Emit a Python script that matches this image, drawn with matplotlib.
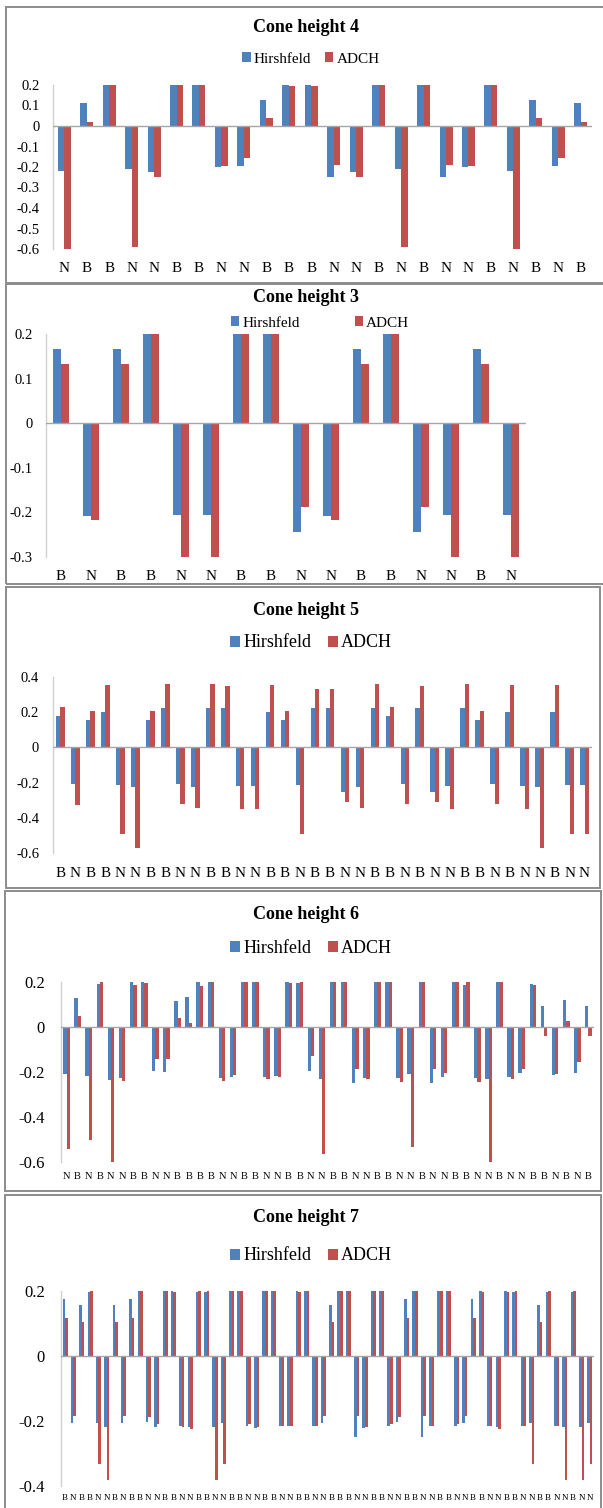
import numpy as np
import matplotlib
matplotlib.use("Agg")
import matplotlib.pyplot as plt
from matplotlib.patches import Patch, Rectangle

# ---- data -------------------------------------------------------------
cats4 = list("NBBNNBBNNBBBNNBNBNNBNBNB")
hirsh4 = [-0.22, 0.11, 0.20, -0.21, -0.225, 0.20, 0.20, -0.20, -0.197, 0.125, 0.20, 0.20,
          -0.249, -0.226, 0.20, -0.21, 0.20, -0.249, -0.20, 0.20, -0.22, 0.125, -0.197, 0.11]
adch4 = [-0.60, 0.02, 0.20, -0.59, -0.249, 0.20, 0.20, -0.193, -0.158, 0.037, 0.193, 0.193,
         -0.19, -0.249, 0.20, -0.59, 0.20, -0.19, -0.193, 0.20, -0.60, 0.037, -0.158, 0.02]

cats3 = list("BNBBNNBBNNBBNNBN")
hirsh3 = [0.166, -0.209, 0.166, 0.20, -0.206, -0.206, 0.20, 0.20,
          -0.245, -0.209, 0.166, 0.20, -0.245, -0.206, 0.166, -0.206]
adch3 = [0.132, -0.218, 0.132, 0.20, -0.30, -0.30, 0.20, 0.20,
         -0.187, -0.218, 0.132, 0.20, -0.187, -0.30, 0.132, -0.30]

cats5 = list("BNBBNNBBNNBBNNBBNBBNNBBNBNNBBNBNNBNN")
hirsh5 = [0.181, -0.206, 0.156, 0.202, -0.211, -0.225, 0.156, 0.225, -0.206, -0.225, 0.225, 0.225,
          -0.219, -0.219, 0.202, 0.156, -0.211, 0.225, 0.225, -0.253, -0.225, 0.225, 0.181, -0.206,
          0.225, -0.253, -0.219, 0.225, 0.156, -0.206, 0.202, -0.219, -0.225, 0.202, -0.211, -0.211]
adch5 = [0.229, -0.326, 0.206, 0.356, -0.491, -0.57, 0.206, 0.36, -0.324, -0.345, 0.36, 0.349,
         -0.352, -0.352, 0.356, 0.206, -0.491, 0.333, 0.333, -0.31, -0.345, 0.36, 0.229, -0.324,
         0.349, -0.31, -0.352, 0.36, 0.206, -0.324, 0.356, -0.352, -0.57, 0.356, -0.491, -0.491]

cats6 = list("NBNBNNBBNNBBBBNNBBNNBBNNBBNNBBNNBNNBBNNBNNBBNBNB")
hirsh6 = [-0.207, 0.127, -0.218, 0.193, -0.237, -0.225, 0.2, 0.2, -0.196, -0.199, 0.116, 0.135,
          0.2, 0.2, -0.225, -0.22, 0.2, 0.2, -0.22, -0.218, 0.2, 0.196, -0.196, -0.233,
          0.2, 0.2, -0.25, -0.225, 0.2, 0.2, -0.228, -0.21, 0.2, -0.25, -0.22, 0.2,
          0.188, -0.228, -0.233, 0.2, -0.22, -0.206, 0.193, 0.092, -0.215, 0.119, -0.203, 0.092]
adch6 = [-0.54, 0.049, -0.5, 0.2, -0.6, -0.241, 0.187, 0.197, -0.144, -0.144, 0.041, 0.019,
         0.182, 0.2, -0.241, -0.212, 0.2, 0.2, -0.231, -0.22, 0.196, 0.2, -0.129, -0.566,
         0.2, 0.2, -0.188, -0.23, 0.2, 0.2, -0.243, -0.533, 0.2, -0.188, -0.203, 0.2,
         0.2, -0.244, -0.6, 0.2, -0.231, -0.187, 0.187, -0.04, -0.209, 0.027, -0.157, -0.042]

cats7 = list("BNBBNNBN" "BBNNBBNN" "BBNNBBNN" "BBNNBBNN" "BBBNNBBN" "NBBNNBBN" "NBBNNBBN" "NBBNNBNN")
hirsh7 = [0.174, -0.205, 0.156, 0.198, -0.207, -0.219, 0.156, -0.205,
          0.174, 0.2, -0.203, -0.217, 0.2, 0.2, -0.214, -0.217,
          0.196, 0.198, -0.219, -0.207, 0.2, 0.2, -0.215, -0.22,
          0.2, 0.2, -0.215, -0.215, 0.2, 0.2, -0.214, -0.205,
          0.156, 0.2, 0.2, -0.25, -0.22, 0.2, 0.2, -0.215,
          -0.202, 0.174, 0.2, -0.25, -0.215, 0.2, 0.2, -0.215,
          -0.205, 0.174, 0.2, -0.215, -0.217, 0.2, 0.198, -0.215,
          -0.207, 0.156, 0.198, -0.215, -0.219, 0.196, -0.219, -0.207]
adch7 = [0.116, -0.184, 0.106, 0.2, -0.332, -0.382, 0.106, -0.184,
         0.116, 0.2, -0.189, -0.209, 0.2, 0.198, -0.217, -0.224,
         0.2, 0.2, -0.382, -0.332, 0.2, 0.2, -0.209, -0.219,
         0.2, 0.2, -0.214, -0.214, 0.198, 0.2, -0.215, -0.184,
         0.106, 0.2, 0.2, -0.185, -0.218, 0.2, 0.2, -0.209,
         -0.189, 0.116, 0.2, -0.185, -0.214, 0.2, 0.2, -0.209,
         -0.184, 0.116, 0.198, -0.215, -0.224, 0.198, 0.2, -0.215,
         -0.332, 0.106, 0.2, -0.215, -0.382, 0.2, -0.382, -0.332]

series_names = ["Hirshfeld", "ADCH"]

# ---- style ------------------------------------------------------------
BLUE = "#4F81BD"
RED = "#C0504D"
SERIF = "Liberation Serif"
W, H = 603, 1508
fig = plt.figure(figsize=(W / 100, H / 100), dpi=100)
fig.patch.set_facecolor("white")


def frame(x0, y0, x1, y1):
    fig.add_artist(Rectangle((x0 / W, 1 - y1 / H), (x1 - x0) / W, (y1 - y0) / H,
                             transform=fig.transFigure, fill=False,
                             edgecolor="#8c8c8c", lw=1.4, zorder=0))


def panel(title, cats, hv, av, box, ylim, yticks, ylabels, title_y, leg_xy, leg_fs,
          colsp, tick_fs, tick_pad, cat_fs, cat_pad, width=0.29):
    left, right, top, bottom = box
    ax = fig.add_axes([left / W, 1 - bottom / H, (right - left) / W, (bottom - top) / H])
    x = np.arange(len(cats))
    ax.bar(x - width / 2, hv, width, color=BLUE, edgecolor="none", zorder=2)
    ax.bar(x + width / 2, av, width, color=RED, edgecolor="none", zorder=2)
    ax.set_xlim(-0.5, len(cats) - 0.5)
    ax.set_ylim(*ylim)
    ax.axhline(0, color="#a6a6a6", lw=1.0, zorder=3)
    for s in ("top", "right", "bottom"):
        ax.spines[s].set_visible(False)
    ax.spines["left"].set_color("#d0d0d0")
    ax.spines["left"].set_linewidth(1.0)
    ax.set_xticks(x)
    ax.set_xticklabels(cats, fontsize=cat_fs, family=SERIF)
    ax.tick_params(axis="x", length=0, pad=cat_pad)
    ax.set_yticks(yticks)
    ax.set_yticklabels(ylabels, fontsize=tick_fs, family=SERIF)
    ax.tick_params(axis="y", length=0, pad=tick_pad)
    fig.text(0.5 * (6 + 600) / W + 0.005, 1 - title_y / H, title, ha="center", va="center",
             fontsize=13, fontweight="bold", family=SERIF)
    handles = [Patch(facecolor=BLUE, edgecolor="none"), Patch(facecolor=RED, edgecolor="none")]
    ax.legend(handles, series_names, loc="center",
              bbox_to_anchor=(leg_xy[0] / W, 1 - leg_xy[1] / H), bbox_transform=fig.transFigure,
              ncol=2, frameon=False, handlelength=0.55, handleheight=0.55, handletextpad=0.2,
              columnspacing=colsp, borderpad=0, borderaxespad=0,
              prop={"family": SERIF, "size": leg_fs})
    return ax


def fmt(vals):
    return ["0" if abs(v) < 1e-9 else f"{v:.1f}" for v in vals]


# panel frames
frame(6, 7, 606, 283)
frame(6, 284, 606, 584)
frame(6, 587, 600, 888)
frame(5, 891, 601, 1191)
frame(5, 1195, 601, 1512)

t4 = np.round(np.arange(-0.6, 0.21, 0.1), 1)
panel("Cone height 4", cats4, hirsh4, adch4, (53, 592, 85, 249), (-0.6, 0.2),
      t4, fmt(t4), 27, (311, 59), 11, 0.9, 10.5, 9.5, 11, 9)

t3 = np.round(np.arange(-0.3, 0.21, 0.1), 1)
panel("Cone height 3", cats3, hirsh3, adch3, (46, 526, 334, 557), (-0.3, 0.2),
      t3, fmt(t3), 297, (320, 323), 11, 3.6, 10.5, 9.5, 11, 9, width=0.28)

t5 = np.round(np.arange(-0.6, 0.41, 0.2), 1)
panel("Cone height 5", cats5, hirsh5, adch5, (53, 592, 677, 853), (-0.6, 0.4),
      t5, fmt(t5), 610, (311, 643), 13, 0.9, 10.5, 10, 11, 10)

t6 = np.round(np.arange(-0.6, 0.21, 0.2), 1)
panel("Cone height 6", cats6, hirsh6, adch6, (61, 594, 982, 1162), (-0.6, 0.2),
      t6, fmt(t6), 915, (311, 948), 13, 0.9, 12, 11.5, 7.5, 7.5, width=0.3)

t7 = np.round(np.arange(-0.4, 0.21, 0.2), 1)
panel("Cone height 7", cats7, hirsh7, adch7, (61, 594, 1291, 1486), (-0.4, 0.2),
      t7, fmt(t7), 1218, (311, 1256), 13, 0.9, 12, 11.5, 6.5, 5.5, width=0.31)

fig.savefig("out.png", dpi=100, facecolor="white")
